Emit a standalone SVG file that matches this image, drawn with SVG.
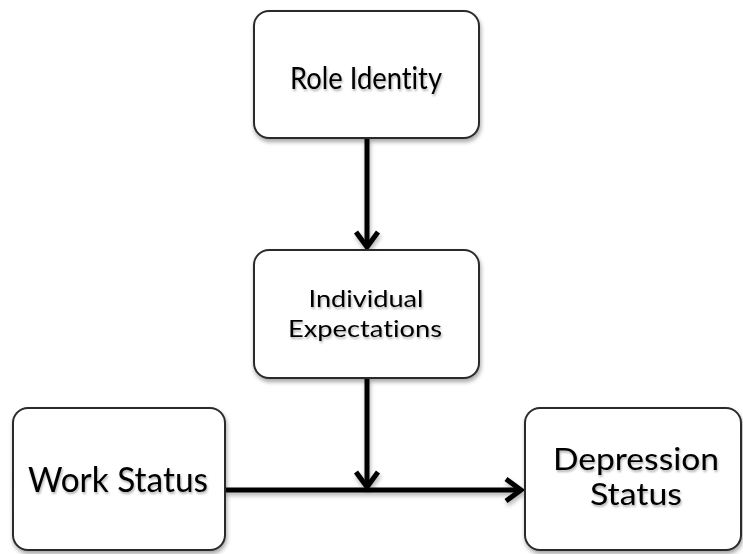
<svg xmlns="http://www.w3.org/2000/svg" width="743" height="554" viewBox="0 0 743 554">
  <defs>
    <filter id="shadow" x="-10%" y="-10%" width="130%" height="130%">
      <feDropShadow dx="1" dy="3" stdDeviation="2" flood-color="#000" flood-opacity="0.35"/>
    </filter>
    <filter id="lineShadow" filterUnits="userSpaceOnUse" x="0" y="0" width="743" height="554">
      <feDropShadow dx="1" dy="3" stdDeviation="2" flood-color="#000" flood-opacity="0.3"/>
    </filter>
    <filter id="textShadow" x="-5%" y="-20%" width="115%" height="160%">
      <feDropShadow dx="1" dy="2" stdDeviation="1.2" flood-color="#000" flood-opacity="0.3"/>
    </filter>
    <marker id="chevron" markerUnits="userSpaceOnUse" markerWidth="30" markerHeight="30" viewBox="-22 -15 26 30" refX="0" refY="0" orient="auto">
      <path d="M-15,-11 L0,0 L-15,11" fill="none" stroke="#000" stroke-width="5" stroke-linejoin="miter" stroke-linecap="butt"/>
    </marker>
  </defs>
  <style>
    .box { fill: #fff; stroke: #2b2b2b; stroke-width: 2; filter: url(#shadow); }
    .label { font-family: Lato, "Open Sans", "Liberation Sans", sans-serif; fill: #000; text-anchor: middle; font-variant-ligatures: none; filter: url(#textShadow); }
    .edge { stroke: #000; stroke-width: 5; fill: none; marker-end: url(#chevron); }
  </style>
  <rect width="743" height="554" fill="#fff"/>

  <g id="connectors" filter="url(#lineShadow)">
    <path class="edge" d="M367,138 L367,247"/>
    <path class="edge" d="M367,378 L367,487"/>
    <path class="edge" d="M225,490 L521,490"/>
  </g>

  <g id="role-identity">
    <rect class="box" x="254" y="11" width="225" height="127" rx="15"/>
    <text class="label" x="366" y="89" font-size="30" textLength="152" lengthAdjust="spacingAndGlyphs">Role Identity</text>
  </g>

  <g id="individual-expectations">
    <rect class="box" x="254" y="250" width="225" height="128" rx="15"/>
    <text class="label" x="366" y="307" font-size="23" textLength="115" lengthAdjust="spacingAndGlyphs">Individual</text>
    <text class="label" x="365" y="337" font-size="23" textLength="154" lengthAdjust="spacingAndGlyphs">Expectations</text>
  </g>

  <g id="work-status">
    <rect class="box" x="13" y="408" width="212" height="142" rx="15"/>
    <text class="label" x="118" y="492" font-size="34" textLength="180" lengthAdjust="spacingAndGlyphs">Work Status</text>
  </g>

  <g id="depression-status">
    <rect class="box" x="525" y="408" width="216" height="142" rx="15"/>
    <text class="label" x="636" y="470" font-size="30" textLength="166" lengthAdjust="spacingAndGlyphs">Depression</text>
    <text class="label" x="636" y="505" font-size="30" textLength="92" lengthAdjust="spacingAndGlyphs">Status</text>
  </g>
</svg>
